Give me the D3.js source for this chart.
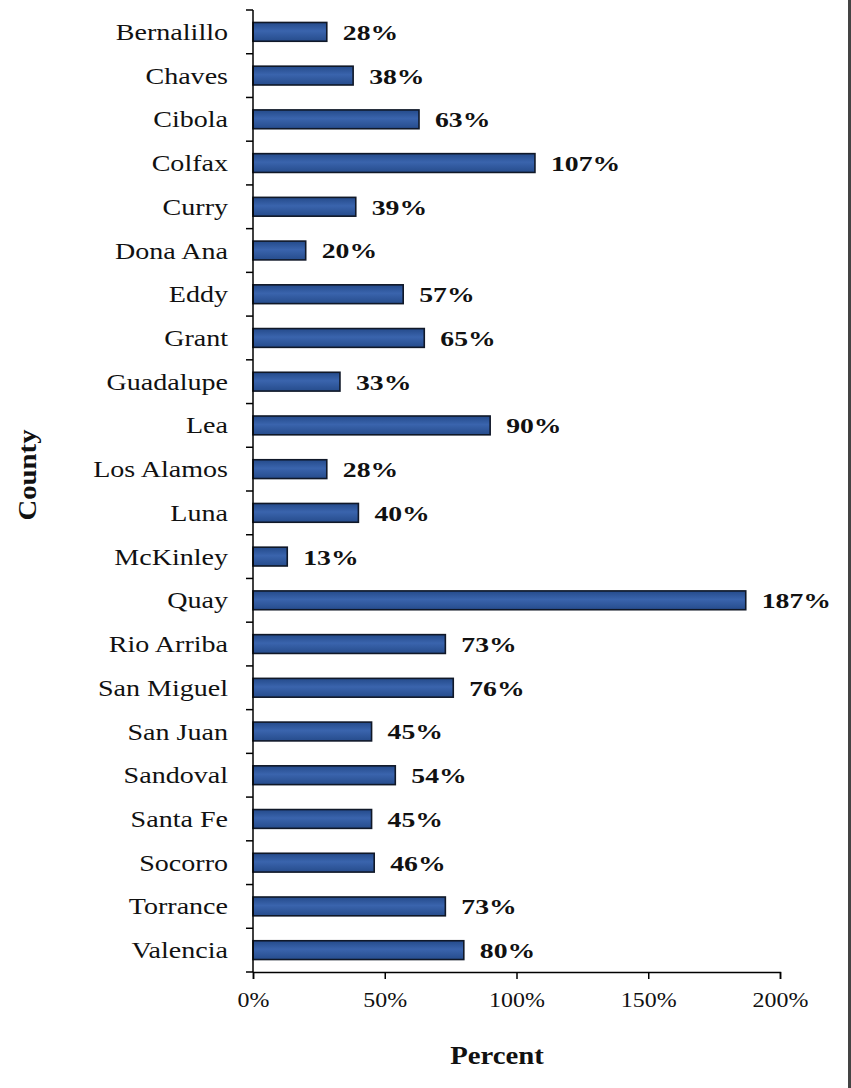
<!DOCTYPE html>
<html><head><meta charset="utf-8">
<script src="https://cdn.jsdelivr.net/npm/d3@7"></script>
<style>body{margin:0;background:#fff}svg{display:block}</style>
</head><body>
<script>
const counties = ["Bernalillo","Chaves","Cibola","Colfax","Curry","Dona Ana","Eddy","Grant","Guadalupe","Lea","Los Alamos","Luna","McKinley","Quay","Rio Arriba","San Miguel","San Juan","Sandoval","Santa Fe","Socorro","Torrance","Valencia"];
const percents = [28,38,63,107,39,20,57,65,33,90,28,40,13,187,73,76,45,54,45,46,73,80];
const xTicks = [0,50,100,150,200];

const W=851,H=1088;
const svg=d3.select("body").append("svg").attr("width",W).attr("height",H);
svg.append("rect").attr("width",W).attr("height",H).attr("fill","#fff");
svg.append("line").attr("x1",849.5).attr("x2",849.5).attr("y1",0).attr("y2",H).attr("stroke","#444").attr("stroke-width",3);

const defs=svg.append("defs");
const g=defs.append("linearGradient").attr("id","bg").attr("x1",0).attr("x2",0).attr("y1",0).attr("y2",1);
g.append("stop").attr("offset","0%").attr("stop-color","#244a8a");
g.append("stop").attr("offset","45%").attr("stop-color","#3a64ad");
g.append("stop").attr("offset","100%").attr("stop-color","#264c8c");

const x=d3.scaleLinear().domain([0,200]).range([253,780]);
const y=d3.scaleBand().domain(counties).range([10,972]).paddingInner(0.57).paddingOuter(0.285);
const font="'Liberation Serif','Times New Roman',serif";

// bars
svg.append("g").selectAll("rect").data(counties).join("rect")
  .attr("x",x(0)).attr("y",d=>y(d)).attr("height",y.bandwidth())
  .attr("width",(d,i)=>x(percents[i])-x(0))
  .attr("fill","url(#bg)").attr("stroke","#101828").attr("stroke-width",1.6);

// value labels
svg.append("g").selectAll("text").data(counties).join("text")
  .attr("transform",(d,i)=>`translate(${x(percents[i])+16},${y(d)+y.bandwidth()/2}) scale(1.26,1)`)
  .attr("dy","0.36em").attr("font-family",font).attr("font-weight","bold").attr("font-size",22)
  .attr("fill","#111").text((d,i)=>percents[i]+"%");

// y axis
svg.append("line").attr("x1",253).attr("x2",253).attr("y1",10).attr("y2",972).attr("stroke","#000").attr("stroke-width",1.5);
const bounds=d3.range(counties.length+1).map(i=>10+i*(962/counties.length));
svg.append("g").selectAll("line").data(bounds).join("line")
  .attr("x1",246).attr("x2",253).attr("y1",d=>d).attr("y2",d=>d).attr("stroke","#000").attr("stroke-width",1.5);
svg.append("g").selectAll("text").data(counties).join("text")
  .attr("transform",d=>`translate(228,${y(d)+y.bandwidth()/2}) scale(1.22,1)`)
  .attr("dy","0.35em").attr("text-anchor","end")
  .attr("font-family",font).attr("font-size",23).attr("fill","#111").text(d=>d);

// x axis
const xa=svg.append("g").attr("transform","translate(0,972)")
  .call(d3.axisBottom(x).tickValues(xTicks).tickSize(7).tickFormat(d=>d+"%"));
xa.select(".domain").attr("stroke","#000").attr("stroke-width",1.5);
xa.selectAll(".tick line").attr("stroke","#000").attr("stroke-width",1.5);
xa.selectAll(".tick text").attr("font-family",font).attr("font-size",21).attr("fill","#111")
  .attr("y",0).attr("dy",0).attr("transform","translate(0,35) scale(1.14,1)");

svg.append("text").attr("transform","translate(497,1064) scale(1.15,1)").attr("text-anchor","middle")
  .attr("font-family",font).attr("font-weight","bold").attr("font-size",25).attr("fill","#111").text("Percent");
svg.append("text").attr("transform","translate(36,475) rotate(-90) scale(1.15,1)").attr("text-anchor","middle")
  .attr("font-family",font).attr("font-weight","bold").attr("font-size",25).attr("fill","#111").text("County");
</script>
</body></html>
